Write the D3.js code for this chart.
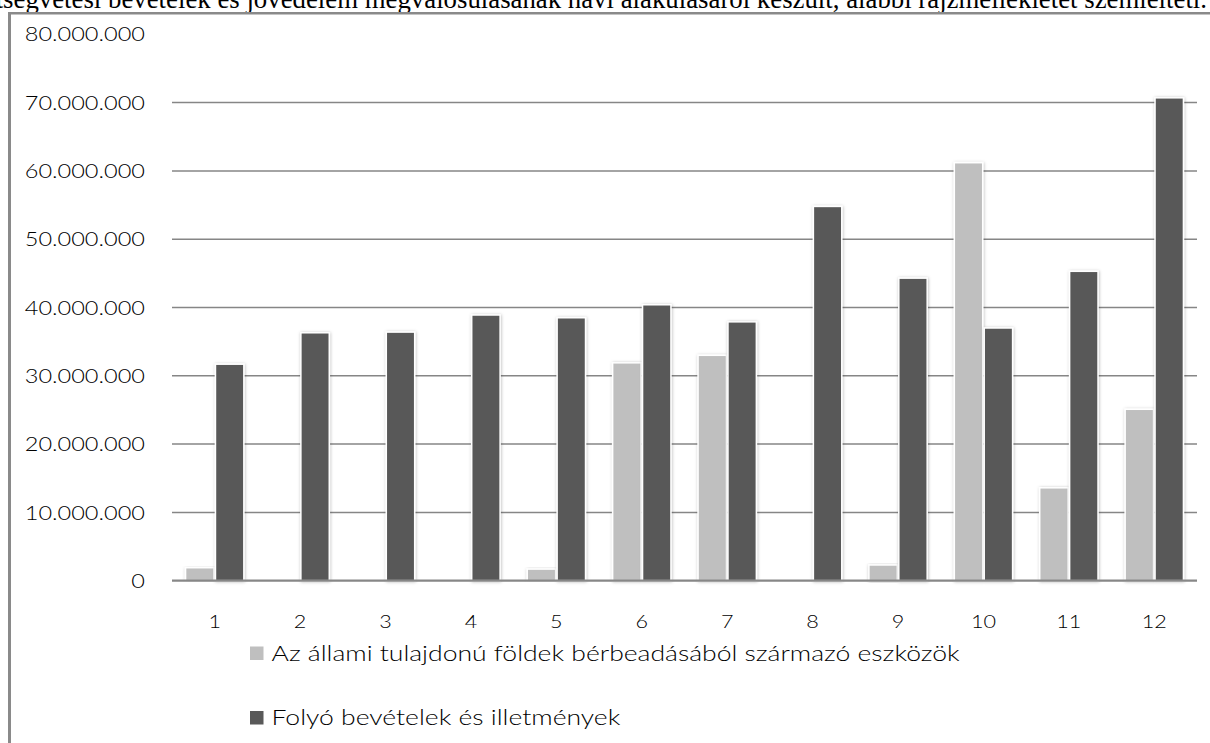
<!DOCTYPE html>
<html>
<head>
<meta charset="utf-8">
<script src="https://cdn.jsdelivr.net/npm/d3@7"></script>
<style>
  html, body { margin: 0; padding: 0; background: #fff; overflow: hidden; }
  svg { display: block; }
</style>
</head>
<body>
<svg id="chart" width="1210" height="743"></svg>
<script>
// ---- data ----
const months = ["1","2","3","4","5","6","7","8","9","10","11","12"];
const seriesNames = [
  "Az állami tulajdonú földek bérbeadásából származó eszközök",
  "Folyó bevételek és illetmények"
];
const landLease = [1900000, 0, 0, 0, 1700000, 31900000, 33000000, 0, 2300000, 61200000, 13600000, 25100000];
const currentRevenue = [31700000, 36300000, 36400000, 38900000, 38500000, 40400000, 37900000, 54800000, 44300000, 37000000, 45300000, 70700000];
const yTicks = [0, 10000000, 20000000, 30000000, 40000000, 50000000, 60000000, 70000000, 80000000];
const headerText = "költségvetési bevételek és jövedelem megvalósulásának havi alakulásáról készült, alábbi rajzmellékletet szemlélteti.";

const colors = ["#bfbfbf", "#595959"];
const values = [landLease, currentRevenue];

const svg = d3.select("#chart");
const W = 1210, H = 743;
const plot = { left: 172, right: 1197, top: 34.3, bottom: 580.7 };
const sansFont = "Lato, 'Open Sans', sans-serif";

// header sentence (cut off at the top, as in the reference)
svg.append("text")
  .attr("x", 1207).attr("y", 8)
  .attr("text-anchor", "end")
  .attr("font-family", "'Liberation Serif', 'Times New Roman', serif")
  .attr("font-size", 26.8)
  .attr("fill", "#000")
  .text(headerText);

// frame lines
svg.append("rect").attr("x", 8).attr("y", 12).attr("width", W - 8).attr("height", 2.5).attr("fill", "#8a8a8a");
svg.append("rect").attr("x", 8).attr("y", 12).attr("width", 3).attr("height", H - 12).attr("fill", "#8a8a8a");

// scales
const x0 = d3.scaleBand().domain(months).range([plot.left, plot.right]).paddingInner(0.3).paddingOuter(0.15);
const x1 = d3.scaleBand().domain([0, 1]).range([0, x0.bandwidth()]).padding(0);
const y = d3.scaleLinear().domain([0, 80000000]).range([plot.bottom, plot.top]);

const fmt = v => d3.format(",")(v).replace(/,/g, ".");

// filter for soft shadow
const defs = svg.append("defs");
const f = defs.append("filter").attr("id", "sh").attr("x", "-30%").attr("y", "-10%").attr("width", "160%").attr("height", "120%");
f.append("feDropShadow").attr("dx", 0.5).attr("dy", 0.5).attr("stdDeviation", 1.6)
  .attr("flood-color", "#000").attr("flood-opacity", 0.28);

// gridlines
svg.append("g").selectAll("line")
  .data(yTicks.filter(t => t > 0 && t < 80000000))
  .join("line")
  .attr("x1", plot.left).attr("x2", plot.right)
  .attr("y1", d => y(d)).attr("y2", d => y(d))
  .attr("stroke", "#868686").attr("stroke-width", 1.5);

// y labels
svg.append("g").selectAll("text")
  .data(yTicks)
  .join("text")
  .attr("transform", d => `translate(145,${y(d)}) scale(1.24,1)`)
  .attr("text-anchor", "end")
  .attr("dominant-baseline", "central")
  .attr("font-family", sansFont)
  .attr("font-weight", 300)
  .attr("font-size", 19)
  .attr("fill", "#000")
  .text(d => fmt(d));

// bars
const groups = svg.append("g").selectAll("g")
  .data(months)
  .join("g")
  .attr("transform", d => `translate(${x0(d)},0)`);

groups.selectAll("rect")
  .data((m, i) => values.map((arr, s) => ({ s, v: arr[i] })))
  .join("rect")
  .filter(d => d.v > 0)
  .attr("x", d => x1(d.s) + 0.75)
  .attr("width", x1.bandwidth() - 1.5)
  .attr("y", d => y(d.v))
  .attr("height", d => y(0) - y(d.v))
  .attr("fill", d => colors[d.s])
  .attr("stroke", "#fff")
  .attr("stroke-width", 1.5)
  .attr("filter", "url(#sh)");

// baseline axis
svg.append("line")
  .attr("x1", plot.left).attr("x2", plot.right)
  .attr("y1", y(0)).attr("y2", y(0))
  .attr("stroke", "#878787").attr("stroke-width", 2.2);

// x labels
svg.append("g").selectAll("text")
  .data(months)
  .join("text")
  .attr("transform", d => `translate(${x0(d) + x0.bandwidth() / 2},628) scale(1.2,1)`)
  .attr("text-anchor", "middle")
  .attr("font-family", sansFont)
  .attr("font-weight", 300)
  .attr("font-size", 18)
  .attr("fill", "#000")
  .text(d => d);

// legend
const leg = svg.append("g").selectAll("g")
  .data(seriesNames)
  .join("g")
  .attr("transform", (d, i) => `translate(250,${660.5 + i * 64.5})`);
leg.append("rect")
  .attr("x", 0).attr("y", -14).attr("width", 13.5).attr("height", 13.5)
  .attr("fill", (d, i) => colors[i]);
leg.append("text")
  .attr("transform", "translate(21.5,0) scale(1.18,1)")
  .attr("font-family", sansFont)
  .attr("font-weight", 300)
  .attr("font-size", 22.5)
  .attr("fill", "#000")
  .text(d => d);
</script>
</body>
</html>
